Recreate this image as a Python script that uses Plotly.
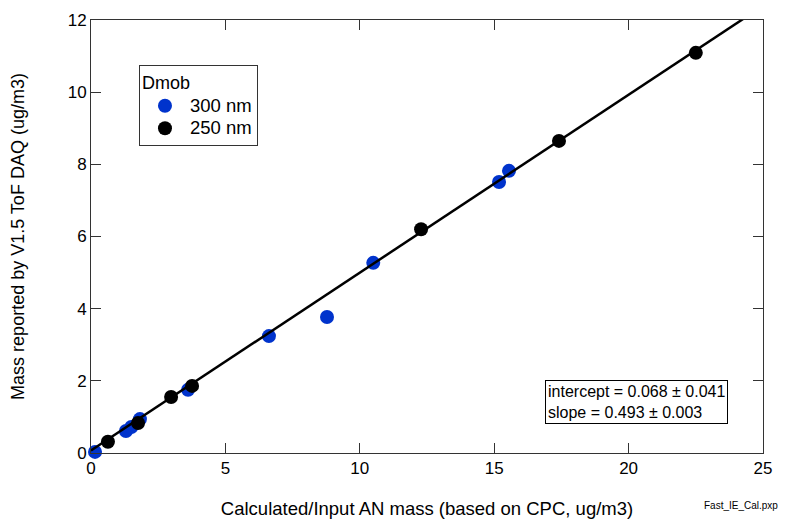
import plotly.graph_objects as go

# 300 nm series
x300 = [0.15, 1.3, 1.5, 1.82, 3.61, 6.62, 8.78, 10.5, 15.18, 15.55]
y300 = [0.03, 0.61, 0.72, 0.94, 1.75, 3.24, 3.77, 5.27, 7.51, 7.82]
# 250 nm series
x250 = [0.63, 1.75, 2.98, 3.76, 12.28, 17.41, 22.5]
y250 = [0.31, 0.83, 1.55, 1.86, 6.2, 8.65, 11.09]

intercept = 0.068
slope = 0.493
fit_x = [0, 25]
fit_y = [intercept + slope * v for v in fit_x]

BLUE = "#0033cc"
FONT = "Liberation Sans, Arial, sans-serif"


def big(s):
    return '<span style="font-size:18.5px">' + s + '</span>'


fig = go.Figure()
fig.add_trace(go.Scatter(x=x300, y=y300, mode="markers", name=big("300 nm"),
                         marker=dict(color=BLUE, size=14), cliponaxis=False))
fig.add_trace(go.Scatter(x=x250, y=y250, mode="markers", name=big("250 nm"),
                         marker=dict(color="black", size=14), cliponaxis=False))
fig.add_trace(go.Scatter(x=fit_x, y=fit_y, mode="lines", showlegend=False,
                         line=dict(color="black", width=2.5)))

axis_common = dict(showline=True, linecolor="#333333", linewidth=1, mirror="ticks",
                   ticks="inside", ticklen=10, tickcolor="#333333", showgrid=False,
                   zeroline=False, tickfont=dict(size=17, color="black", family=FONT))

fig.update_layout(
    width=773, height=511,
    margin=dict(l=83, r=18, t=12, b=66),
    plot_bgcolor="white", paper_bgcolor="white",
    font=dict(family=FONT, color="black"),
    xaxis=dict(range=[0, 25], dtick=5, automargin=False,
               title=dict(text="Calculated/Input AN mass (based on CPC, ug/m3)",
                          font=dict(size=18.5), standoff=30), **axis_common),
    yaxis=dict(range=[0, 12], dtick=2, automargin=False,
               title=dict(text="Mass reported by V1.5 ToF DAQ (ug/m3)",
                          font=dict(size=18), standoff=46), **axis_common),
    legend=dict(x=0.0714, y=0.896, xanchor="left", yanchor="top",
                bordercolor="#333333", borderwidth=1, bgcolor="white",
                title=dict(text="Dmob", font=dict(size=18)),
                font=dict(size=15), itemwidth=40, tracegroupgap=0),
    annotations=[
        dict(xref="paper", yref="paper", x=1.0253, y=-0.122, xanchor="right", yanchor="middle",
             text="Fast_IE_Cal.pxp", showarrow=False,
             font=dict(size=10, color="black")),
        dict(xref="paper", yref="paper", x=0.676, y=0.168, xanchor="left", yanchor="top",
             text="intercept = 0.068 ± 0.041<br>slope = 0.493 ± 0.003",
             showarrow=False, align="left", font=dict(size=16, color="black"),
             bordercolor="black", borderwidth=1, borderpad=2, bgcolor="white"),
    ],
)

fig.write_html("out.html")
